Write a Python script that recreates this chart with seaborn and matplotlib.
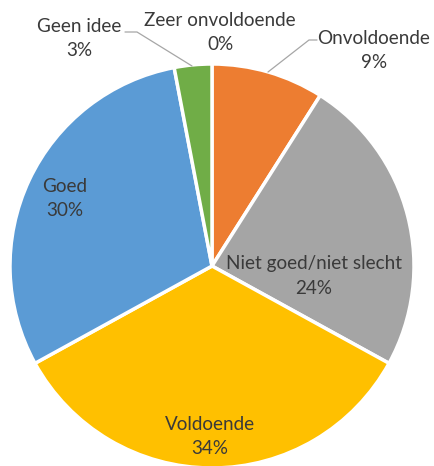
import matplotlib
matplotlib.use('Agg')
import matplotlib.pyplot as plt
import seaborn as sns

# Data
categories = ['Zeer onvoldoende', 'Onvoldoende', 'Niet goed/niet slecht', 'Voldoende', 'Goed', 'Geen idee']
values = [0, 9, 24, 34, 30, 3]
pct_labels = ['0%', '9%', '24%', '34%', '30%', '3%']
colors = ['#5B9BD5', '#ED7D31', '#A5A5A5', '#FFC000', '#5B9BD5', '#70AD47']

sns.set_theme(style='white')
plt.rcParams['font.family'] = ['Lato', 'DejaVu Sans']

fig = plt.figure(figsize=(4.34, 4.66), dpi=100)
ax = fig.add_axes([0, 0, 1, 1])

# pie in pixel-like coordinates (y negative downwards)
ax.pie(values, colors=sns.color_palette(colors), startangle=90, counterclock=False,
       center=(212, -266), radius=202,
       wedgeprops=dict(edgecolor='white', linewidth=2.5))
ax.set_xlim(0, 434)
ax.set_ylim(-466, 0)
ax.set_aspect('equal')
ax.axis('off')

# label positions (text block centres, pixels)
label_pos = {
    'Zeer onvoldoende': (220, 33),
    'Onvoldoende': (374, 50),
    'Niet goed/niet slecht': (314, 276),
    'Voldoende': (210, 437),
    'Goed': (65, 199),
    'Geen idee': (79, 38),
}
for cat, pct in zip(categories, pct_labels):
    x, y = label_pos[cat]
    ax.text(x, -y, cat + '\n' + pct, ha='center', va='center', fontsize=13.6,
            color='#3A3A3A', linespacing=1.5)

# leader lines
ax.plot([125, 137, 192], [-32, -32, -66], color='#A6A6A6', lw=0.9)
ax.plot([317, 309, 268], [-40, -40, -72], color='#A6A6A6', lw=0.9)

fig.savefig('out.png', dpi=100)
